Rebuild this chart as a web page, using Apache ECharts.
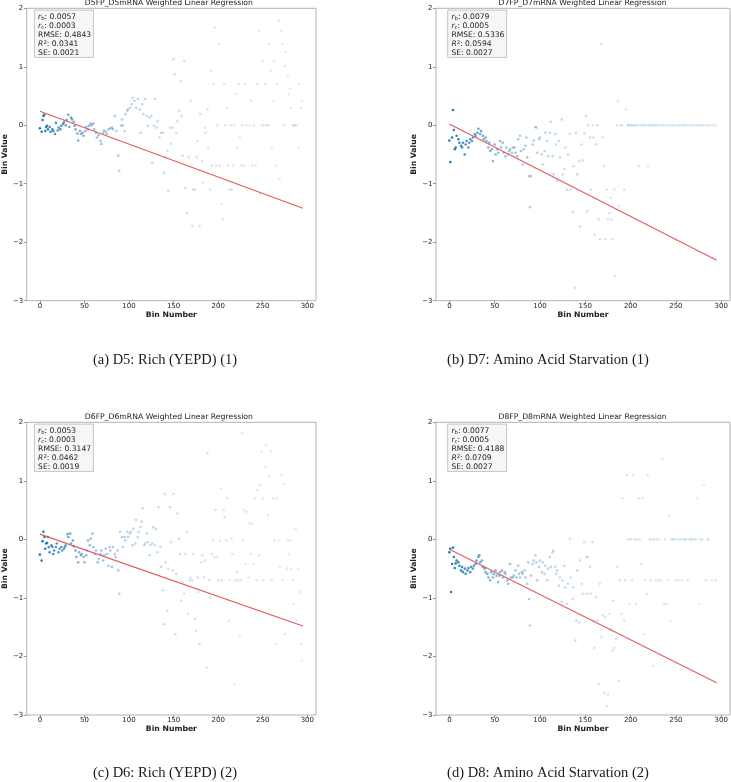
<!DOCTYPE html>
<html>
<head>
<meta charset="utf-8">
<script src="https://cdn.jsdelivr.net/npm/echarts@6/dist/echarts.min.js"></script>
<style>
html,body{margin:0;padding:0;background:#fff;}
#chart{width:731px;height:782px;}
</style>
</head>
<body>
<div id="chart"></div>
<script>
// ---------- DATA ----------
const panelTitles = ['D5FP_D5mRNA Weighted Linear Regression','D7FP_D7mRNA Weighted Linear Regression','D6FP_D6mRNA Weighted Linear Regression','D8FP_D8mRNA Weighted Linear Regression'];
const captions = ['(a) D5: Rich (YEPD) (1)','(b) D7: Amino Acid Starvation (1)','(c) D6: Rich (YEPD) (2)','(d) D8: Amino Acid Starvation (2)'];
const xTicks = [0,50,100,150,200,250,300];
const yTicks = [-3,-2,-1,0,1,2];
const statRb = ['0.0057','0.0079','0.0053','0.0077'];
const statRc = ['0.0003','0.0005','0.0003','0.0005'];
const statRmse = ['0.4843','0.5336','0.3147','0.4188'];
const statR2 = ['0.0341','0.0594','0.0462','0.0709'];
const statSe = ['0.0021','0.0027','0.0019','0.0027'];

const fitD5 = [[0,0.24],[295,-1.42]];
const fitD7 = [[0,0.02],[295,-2.31]];
const fitD6 = [[0,0.09],[295,-1.48]];
const fitD8 = [[0,-0.17],[295,-2.45]];

const ptsD5 = [[0,-0.05],[2,-0.11],[3,0.09],[4,0.16],[5,0.18],[6,-0.1],[7,-0.03],[8,-0.01],[9,-0.07],[11,-0.03],[12,-0.11],[14,-0.07],[15,-0.1],[17,-0.15],[18,0.04],[20,-0.09],[21,-0.04],[23,-0.07],[24,-0.01],[26,0.02],[27,0.05],[29,0],[30,0.09],[32,0.18],[33,-0.03],[35,0.13],[36,0.1],[38,0.06],[39,-0.01],[40,-0.07],[42,-0.14],[43,-0.26],[45,-0.1],[46,-0.15],[48,-0.13],[49,-0.18],[51,-0.1],[52,-0.03],[54,-0.07],[55,-0.01],[57,0.03],[58,0],[60,0.03],[61,-0.07],[63,-0.13],[64,-0.21],[66,-0.17],[68,-0.27],[69,-0.32],[71,-0.13],[72,-0.09],[74,-0.11],[75,-0.15],[77,-0.07],[79,-0.05],[81,-0.04],[82,-0.07],[84,0.16],[86,-0.1],[88,-0.52],[89,-0.78],[91,-0.01],[92,0.1],[93,0],[95,-0.1],[96,0.19],[98,0.25],[99,0.27],[101,0.3],[103,0.36],[104,0.47],[106,0.42],[108,0.3],[110,0.45],[112,0.27],[113,-0.13],[115,0.36],[116,0.19],[118,0.45],[120,0.16],[121,-0.01],[123,0.13],[125,0.16],[126,-0.64],[128,-0.01],[129,0.45],[131,-0.04],[132,0.07],[134,-0.21],[136,-0.13],[138,-0.13],[139,-0.81],[141,-0.55],[143,-0.44],[144,-1.12],[146,-0.04],[147,-0.32],[149,-0.04],[150,1.13],[151,0.87],[153,-0.13],[154,0.07],[156,0.25],[158,0.76],[159,0.16],[160,-0.52],[162,1.1],[163,-1.07],[165,-1.5],[167,-0.55],[169,0.42],[171,-1.72],[172,-1.1],[174,-1.1],[176,-0.55],[177,-0.27],[179,-1.72],[180,0.19],[182,-0.61],[183,-0.98],[185,-0.04],[186,-0.13],[188,0.27],[189,-0.38],[191,-1.1],[192,0.93],[193,-0.69],[195,0.7],[196,1.67],[198,-0.69],[199,0],[201,1.39],[202,-0.69],[204,-1.35],[205,-1.61],[207,0.7],[208,0],[210,0.3],[211,-0.69],[213,-1.1],[214,0],[215,-1.1],[217,-0.69],[218,0],[220,0.53],[221,-0.38],[223,0.7],[224,-0.21],[226,-0.69],[227,0],[229,-0.69],[230,0.7],[232,0],[233,-1.1],[235,0],[237,0.42],[238,-0.69],[240,0],[242,-0.69],[244,0.7],[246,1.61],[247,-1.18],[249,0],[250,1.1],[251,0],[253,0.7],[254,0],[256,0],[257,1.39],[259,0.93],[260,-0.38],[262,0.42],[263,1.1],[265,-0.69],[266,0.7],[268,1.79],[269,-0.92],[271,1.61],[272,1.39],[274,0],[275,1.01],[276,1.25],[278,0.85],[279,0.53],[281,0.62],[282,0.3],[284,0],[285,0],[286,0],[288,0],[290,-0.38],[291,0.7],[293,0.3],[294,0.42]];

const ptsD7 = [[0,-0.26],[1,-0.63],[3,-0.21],[4,0.26],[5,-0.08],[6,-0.41],[7,-0.38],[8,-0.18],[10,-0.24],[11,-0.3],[13,-0.35],[14,-0.38],[15,-0.3],[17,-0.5],[18,-0.33],[19,-0.27],[21,-0.38],[22,-0.3],[23,-0.24],[25,-0.27],[26,-0.21],[28,-0.15],[29,-0.18],[31,-0.13],[32,-0.06],[34,-0.15],[35,-0.1],[37,-0.18],[38,-0.24],[40,-0.21],[41,-0.27],[43,-0.38],[44,-0.3],[45,-0.44],[47,-0.41],[48,-0.61],[50,-0.33],[51,-0.5],[53,-0.41],[54,-0.47],[56,-0.27],[57,-0.38],[59,-0.3],[60,-0.47],[62,-0.53],[63,-0.38],[65,-0.5],[66,-0.44],[67,-0.41],[69,-0.47],[70,-0.38],[72,-0.38],[73,-0.47],[75,-0.53],[76,-0.24],[78,-0.18],[79,-0.44],[81,-0.67],[82,-0.41],[84,-0.35],[85,-0.21],[86,-0.55],[88,-0.87],[89,-1.4],[90,-0.87],[92,-0.33],[93,-0.26],[95,-0.03],[96,-0.04],[97,-0.47],[99,-0.24],[100,-0.21],[102,-0.5],[103,-0.67],[105,-0.44],[106,-0.13],[108,-0.27],[109,-0.53],[111,-0.13],[112,0.06],[114,-0.53],[115,-0.84],[117,-0.15],[118,-0.33],[119,-0.95],[121,-0.27],[122,-0.55],[124,0.1],[125,-0.84],[127,-0.75],[128,-0.38],[130,-1.1],[131,-0.5],[133,-0.15],[134,-1.1],[136,-1.48],[137,-0.7],[139,-2.78],[140,-0.13],[141,-0.84],[143,-0.61],[144,-1.73],[146,-0.33],[147,-0.6],[149,-0.14],[151,0.16],[152,-1.47],[153,0],[155,-0.21],[156,-1.1],[158,0],[159,-0.21],[160,-1.87],[162,-0.33],[163,0],[165,-1.61],[166,-1.95],[168,1.39],[169,-0.21],[171,-0.7],[172,-1.95],[174,-1.1],[175,-1.61],[177,-1.5],[178,-1.24],[179,-1.61],[180,-1.95],[182,-1.1],[183,-2.58],[185,0],[186,0.42],[187,-1.38],[189,0],[191,0],[193,-1.1],[195,0.27],[197,0],[198,0],[200,0],[202,0],[204,0],[206,0],[208,0],[209,-0.7],[211,0],[213,0],[215,0],[217,0],[219,-0.7],[220,0],[222,0],[224,0],[226,0],[228,0],[230,0],[232,0],[235,0],[237,0],[240,0],[243,0],[245,0],[247,0],[250,0],[253,0],[255,0],[258,0],[260,0],[262,0],[265,0],[268,0],[270,0],[273,0],[275,0],[278,0],[280,0],[283,0],[285,0],[288,0],[291,0],[294,0]];

const ptsD6 = [[0,-0.26],[2,-0.36],[3,-0.03],[4,0.13],[5,0.04],[6,-0.16],[7,-0.07],[8,-0.06],[9,0.04],[10,-0.13],[11,-0.22],[13,-0.1],[14,-0.13],[15,-0.25],[16,-0.19],[18,-0.13],[19,-0.07],[21,-0.22],[22,-0.16],[24,-0.13],[25,-0.19],[27,-0.16],[28,-0.13],[29,-0.1],[31,0.09],[32,0.04],[34,0.1],[35,-0.07],[37,-0.02],[38,-0.12],[40,-0.19],[41,-0.3],[43,-0.39],[44,-0.22],[46,-0.27],[47,-0.25],[49,-0.3],[50,-0.39],[52,-0.27],[53,-0.19],[54,-0.02],[56,-0.1],[57,0.01],[59,0.1],[60,-0.13],[62,-0.25],[63,-0.19],[65,-0.39],[66,-0.33],[68,-0.25],[69,-0.19],[71,-0.36],[72,-0.27],[74,-0.16],[75,-0.25],[77,-0.45],[78,-0.13],[79,-0.19],[81,-0.47],[82,-0.13],[84,-0.25],[85,-0.3],[87,-0.19],[88,-0.53],[89,-0.93],[90,0.13],[92,0.04],[93,-0.13],[95,0.04],[96,-0.02],[98,0.13],[99,0.04],[101,0.1],[102,0.13],[104,-0.1],[105,0.18],[107,-0.07],[108,0.33],[110,0.04],[111,0.13],[113,0.21],[114,0.3],[115,0.53],[117,-0.1],[118,-0.07],[120,0.1],[121,-0.05],[123,-0.27],[124,-0.1],[126,-0.07],[127,0.21],[129,-0.1],[130,0.18],[132,-0.22],[133,0.55],[135,-0.13],[136,-0.47],[138,-0.87],[139,-1.45],[140,0.78],[141,-0.39],[143,-1.22],[144,-0.5],[146,0.55],[147,-0.05],[149,-0.53],[150,0.78],[152,-1.62],[153,-0.59],[154,0.44],[156,0.01],[157,-0.25],[159,-1.05],[160,-0.73],[162,-0.93],[163,-0.25],[165,0.13],[166,-1.27],[168,-0.7],[169,-0.65],[171,-0.7],[172,-0.25],[174,-1.36],[175,-1.56],[177,-0.65],[178,-0.9],[179,-1.79],[181,-0.39],[182,-0.27],[184,-0.65],[185,-0.36],[187,-2.19],[188,1.47],[190,-0.7],[191,-0.99],[193,-0.25],[194,-0.02],[196,-0.3],[197,0.5],[199,-0.3],[200,-0.7],[202,-0.02],[203,0.87],[204,-0.7],[206,0.5],[207,0.38],[209,-0.02],[210,0.7],[212,-1.39],[213,-0.7],[215,0.01],[216,-0.25],[218,-2.48],[219,-0.7],[221,-0.56],[222,-0.7],[224,-1.65],[225,-0.7],[227,1.81],[228,-0.02],[229,0.5],[231,-0.42],[232,0.47],[234,-0.65],[235,0.27],[237,-0.25],[238,0.27],[240,-0.42],[241,0.7],[243,-0.7],[244,0.84],[246,-0.27],[247,0.93],[249,1.5],[250,0.7],[251,-0.7],[253,1.24],[254,1.61],[256,0.41],[257,1.07],[259,1.5],[260,-0.7],[262,0.7],[263,-0.02],[265,-1.79],[266,0.7],[268,-0.02],[269,-0.47],[271,1.1],[272,-0.7],[274,0.95],[275,-1.62],[277,-0.5],[278,-0.02],[279,-0.25],[281,-0.02],[282,-0.5],[284,-0.7],[285,-1.1],[287,0.18],[288,-1.39],[290,-0.5],[291,-0.9],[293,-1.79],[294,-2.07]];

const ptsD8 = [[0,-0.22],[1,-0.16],[2,-0.9],[3,-0.42],[4,-0.14],[5,-0.3],[6,-0.49],[7,-0.41],[8,-0.36],[10,-0.39],[11,-0.45],[13,-0.53],[14,-0.47],[15,-0.56],[17,-0.5],[18,-0.59],[20,-0.53],[21,-0.49],[23,-0.56],[24,-0.47],[26,-0.5],[27,-0.45],[29,-0.42],[30,-0.36],[32,-0.3],[33,-0.27],[34,-0.39],[36,-0.36],[37,-0.47],[39,-0.5],[40,-0.56],[42,-0.59],[43,-0.65],[45,-0.7],[46,-0.56],[48,-0.65],[49,-0.59],[51,-0.53],[52,-0.62],[54,-0.73],[55,-0.62],[56,-0.56],[58,-0.53],[59,-0.65],[61,-0.56],[62,-0.59],[64,-0.7],[65,-0.76],[67,-0.42],[68,-0.65],[70,-0.65],[71,-0.62],[73,-0.53],[74,-0.65],[76,-0.45],[77,-0.59],[78,-0.65],[80,-0.56],[81,-0.59],[83,-0.53],[84,-0.65],[86,-0.76],[87,-0.39],[88,-1.02],[89,-1.47],[90,-0.62],[92,-0.42],[93,-0.36],[95,-0.27],[96,-0.39],[97,-0.7],[99,-0.47],[100,-0.36],[102,-0.56],[103,-0.39],[105,-0.59],[106,-0.45],[108,-0.7],[109,-0.5],[111,-0.3],[112,-0.47],[114,-0.22],[115,-0.19],[117,-0.47],[118,-0.59],[119,-0.53],[121,-0.79],[122,-0.65],[124,-1.07],[125,-0.7],[127,-0.45],[128,-0.82],[130,-1.1],[131,-0.76],[133,0.01],[134,-0.65],[136,-1.02],[137,-0.82],[139,-1.73],[140,-1.39],[141,-0.53],[143,-1.42],[144,-0.36],[146,-0.76],[147,-0.93],[149,-0.05],[151,-0.3],[152,-0.93],[153,-0.3],[155,-0.47],[156,-0.93],[158,-0.05],[159,-1.39],[160,-1.85],[162,-0.99],[163,-1.39],[165,-2.47],[166,-0.76],[168,-1.67],[169,-1.3],[171,-2.62],[172,-1.33],[174,-2.85],[175,-2.65],[177,-1.27],[178,-1.53],[180,-1.9],[181,-1.05],[182,-1.85],[184,-1.7],[185,-0.47],[187,-2.42],[188,-0.7],[190,-1.27],[191,0.7],[193,-1.39],[194,-0.7],[196,1.1],[197,0],[199,-1.1],[200,0],[202,-0.7],[203,1.1],[204,0],[206,-1.1],[207,0],[209,0.7],[210,0],[212,-0.42],[213,0.7],[215,-1.62],[216,-0.7],[218,-0.93],[219,1.1],[221,0],[222,-0.7],[223,0],[225,-2.16],[226,0],[228,-0.7],[229,0],[231,-0.7],[232,0],[234,-0.7],[235,1.38],[237,-1.1],[238,0],[240,-1.1],[241,-0.7],[243,0.41],[244,-1.39],[245,0],[247,0],[248,0],[250,-0.7],[251,0],[253,-0.7],[254,0],[256,0],[257,-0.7],[259,0],[260,0],[262,0],[263,-0.7],[265,0],[266,0],[268,0],[270,0],[272,0],[274,0.7],[276,-1.1],[277,0],[279,0],[281,0.93],[283,-0.7],[285,0],[286,0],[290,-0.7],[294,-0.7]];

// ---------- LAYOUT / STYLE ----------
const panelPts = [ptsD5, ptsD7, ptsD6, ptsD8];
const panelFits = [fitD5, fitD7, fitD6, fitD8];
const grids = [
  {left:22.7, top:8.3, width:293.3, height:292.4},
  {left:436, top:8.3, width:294, height:292.4},
  {left:22.7, top:422.3, width:293.3, height:292.7},
  {left:436, top:422.3, width:294, height:292.7}
];
const captionPos = [[165,360],[548,360],[165,773],[548,773]];
const FONT = 'DejaVu Sans';
const TXT = '#222';
function alphaFor(x){ return 0.14 + 0.86*Math.exp(-x/65); }

const chart = echarts.init(document.getElementById('chart'), null, {renderer:'canvas'});

const gridOpt = [], xAxes = [], yAxes = [], series = [], graphics = [];
grids.forEach((g, i) => {
  gridOpt.push(Object.assign({show:true, borderColor:'#b3b3b3', borderWidth:1, backgroundColor:'#fff'}, g));
  xAxes.push({
    type:'value', gridIndex:i, min:-14.75, max:309.75, position:'bottom',
    name:'Bin Number', nameLocation:'middle', nameGap:9.5,
    nameTextStyle:{fontFamily:FONT, fontWeight:'bold', fontSize:7.7, color:TXT},
    axisLine:{show:false, onZero:false},
    axisTick:{show:true, length:3, lineStyle:{color:'#999'}, customValues:xTicks},
    axisLabel:{fontFamily:FONT, fontSize:7, color:TXT, margin:2, customValues:xTicks},
    splitLine:{show:false}
  });
  yAxes.push({
    type:'value', gridIndex:i, min:-3, max:2, interval:1, position:'left',
    name:'Bin Value', nameLocation:'middle', nameGap:15, nameRotate:90,
    nameTextStyle:{fontFamily:FONT, fontWeight:'bold', fontSize:7.7, color:TXT},
    axisLine:{show:false, onZero:false},
    axisTick:{show:true, length:3, lineStyle:{color:'#999'}},
    axisLabel:{fontFamily:FONT, fontSize:7, color:TXT, margin:3.5,
      formatter: v => String(v).replace('-', '\u2212')},
    splitLine:{show:false}
  });
  series.push({
    type:'scatter', xAxisIndex:i, yAxisIndex:i, symbolSize:2.6,
    itemStyle:{color:'#1f77b4'},
    data: panelPts[i].map(p => ({value:p, itemStyle:{opacity:alphaFor(p[0])}})),
    silent:true, animation:false, z:2
  });
  series.push({
    type:'line', xAxisIndex:i, yAxisIndex:i, data:panelFits[i], symbol:'none',
    lineStyle:{color:'#e15b5b', width:1.1}, silent:true, animation:false, z:3
  });
  graphics.push({type:'text', x:g.left + g.width/2 - 0.5, y:g.top - 4.8,
    style:{text:panelTitles[i], font:'7.7px "DejaVu Sans"', fill:TXT, align:'center', verticalAlign:'middle'}, z:10});
  const bx = g.left + 11.7, by = g.top + 1.8;
  graphics.push({type:'rect', shape:{x:bx, y:by, width:59, height:47.3},
    style:{fill:'#f6f6f6', stroke:'#c4c4c4', lineWidth:1}, z:10});
  graphics.push({type:'text', x:bx + 3.7, y:by + 2.3,
    style:{
      text:'{i|r}{s|b}: ' + statRb[i] + '\n{i|r}{s|c}: ' + statRc[i] + '\nRMSE: ' + statRmse[i] + '\n{i|R}{p|2}: ' + statR2[i] + '\nSE: ' + statSe[i],
      font:'7.6px "DejaVu Sans"', fill:TXT, lineHeight:9.1, align:'left', verticalAlign:'top',
      rich:{
        i:{fontStyle:'italic', fontSize:7.6, fontFamily:FONT, fill:TXT, lineHeight:9.1},
        s:{fontSize:5.3, fontFamily:FONT, fill:TXT, verticalAlign:'bottom', lineHeight:9.1},
        p:{fontSize:5.3, fontFamily:FONT, fill:TXT, verticalAlign:'top', lineHeight:9.1}
      }
    }, z:11});
  graphics.push({type:'text', x:captionPos[i][0], y:captionPos[i][1],
    style:{text:captions[i], font:'14.5px "Liberation Serif"', fill:'#1a1a1a', align:'center', verticalAlign:'middle'}, z:10});
});

chart.setOption({
  backgroundColor:'#fff',
  animation:false,
  grid:gridOpt, xAxis:xAxes, yAxis:yAxes, series:series, graphic:graphics
});
</script>
</body>
</html>
